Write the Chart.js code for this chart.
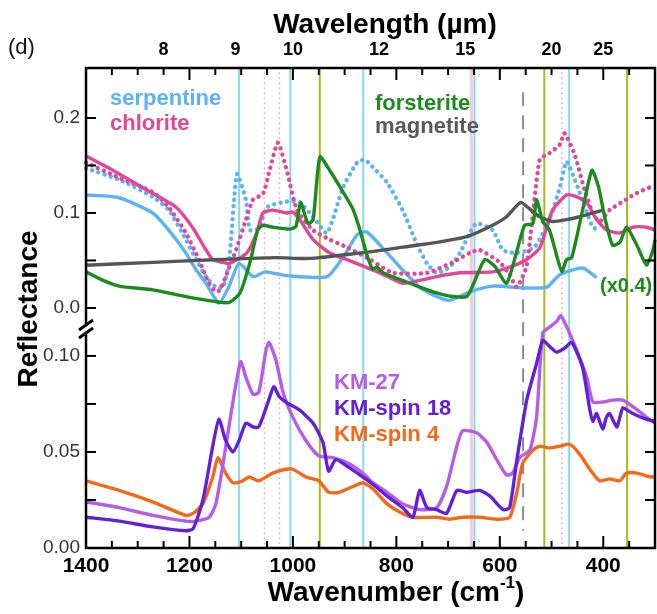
<!DOCTYPE html>
<html><head><meta charset="utf-8">
<script src="https://cdn.jsdelivr.net/npm/chart.js@4/dist/chart.umd.min.js"></script>
<style>html,body{margin:0;padding:0;background:#fff}#wrap{width:657px;height:614px;position:relative}</style>
</head><body><div id="wrap"><canvas id="c"></canvas></div>
<script>
// ---- data (wavenumber in cm-1, reflectance) ----
const serpSolidWn = [1400,1336,1271,1240,1207,1187,1168,1143,1124,1104,1077,1054,1012,934,900,876,857,818,788,755,722,697,658,614,548,509,484,440,413];
const serpSolidR  = [0.119,0.116,0.100,0.082,0.058,0.040,0.026,0.005,0.022,0.047,0.033,0.038,0.034,0.033,0.056,0.077,0.080,0.058,0.040,0.022,0.012,0.008,0.017,0.023,0.021,0.022,0.035,0.042,0.032];
const serpDotWn = [1400,1336,1271,1240,1207,1187,1168,1149,1135,1124,1114,1108,1091,1083,1066,1050,1012,987,961,934,903,876,861,847,818,788,761,741,722,697,677,658,645,614,594,567,533,504,484,471,455,432,420,407];
const serpDotR  = [0.147,0.135,0.117,0.103,0.072,0.051,0.033,0.022,0.022,0.047,0.111,0.141,0.114,0.082,0.084,0.106,0.112,0.111,0.096,0.079,0.127,0.153,0.156,0.149,0.132,0.103,0.068,0.047,0.037,0.043,0.058,0.079,0.089,0.082,0.061,0.058,0.064,0.093,0.127,0.154,0.135,0.101,0.085,0.082];
const chlSolidWn = [1400,1348,1282,1226,1193,1168,1155,1137,1122,1089,1070,1058,1039,1012,1000,987,961,929,896,832,788,755,722,677,614,581,548,523,509,498,471,451,432,413,393,368,343,316,300];
const chlSolidR  = [0.160,0.145,0.124,0.106,0.084,0.061,0.051,0.048,0.047,0.058,0.079,0.100,0.103,0.100,0.101,0.093,0.072,0.058,0.051,0.037,0.026,0.029,0.033,0.037,0.038,0.043,0.051,0.063,0.085,0.103,0.119,0.117,0.111,0.093,0.082,0.079,0.085,0.085,0.082];
const chlDotWn = [1400,1336,1271,1240,1207,1182,1162,1149,1141,1130,1110,1091,1077,1058,1045,1029,1012,992,961,929,896,851,807,741,691,658,639,600,581,567,548,523,504,484,475,455,436,420,407,388,362,335,310,300];
const chlDotR  = [0.153,0.137,0.122,0.106,0.079,0.051,0.026,0.017,0.019,0.033,0.061,0.093,0.114,0.120,0.145,0.174,0.145,0.103,0.082,0.072,0.064,0.051,0.037,0.037,0.048,0.058,0.061,0.048,0.035,0.022,0.045,0.156,0.163,0.172,0.184,0.161,0.124,0.100,0.091,0.103,0.112,0.121,0.127,0.128];
const forWn = [1400,1367,1336,1271,1207,1141,1122,1102,1083,1068,1058,1039,1006,994,985,971,961,948,929,903,884,871,857,846,838,826,788,755,722,691,664,652,629,610,587,565,552,536,529,517,504,488,480,471,461,440,422,409,397,382,368,355,335,316,304,300];
const forR  = [0.038,0.029,0.023,0.019,0.012,0.006,0.006,0.016,0.048,0.082,0.087,0.085,0.083,0.086,0.111,0.089,0.093,0.159,0.145,0.122,0.104,0.083,0.056,0.041,0.043,0.037,0.029,0.022,0.016,0.012,0.012,0.024,0.051,0.044,0.026,0.064,0.087,0.089,0.114,0.091,0.082,0.051,0.038,0.051,0.053,0.103,0.145,0.127,0.095,0.066,0.069,0.085,0.066,0.045,0.061,0.072];
const magWn = [1400,1271,1141,1033,981,948,900,851,788,722,664,614,587,560,544,523,498,471,446,420,401];
const magR  = [0.045,0.048,0.051,0.053,0.052,0.053,0.056,0.059,0.064,0.069,0.075,0.087,0.096,0.111,0.105,0.096,0.091,0.093,0.096,0.100,0.103];
const km27Wn = [1400,1336,1271,1207,1187,1162,1149,1135,1116,1101,1091,1077,1066,1052,1046,1033,1019,1000,975,950,923,892,865,846,818,788,755,722,703,683,672,645,625,606,587,575,562,542,529,517,504,490,482,459,432,420,401,382,362,335,316,300];
const km27R  = [0.024,0.021,0.017,0.014,0.014,0.016,0.023,0.044,0.076,0.097,0.089,0.080,0.081,0.103,0.107,0.098,0.081,0.068,0.056,0.048,0.047,0.044,0.039,0.034,0.029,0.023,0.020,0.021,0.032,0.053,0.061,0.060,0.055,0.046,0.038,0.039,0.047,0.051,0.068,0.112,0.115,0.118,0.121,0.108,0.089,0.076,0.076,0.077,0.077,0.072,0.068,0.065];
const km18Wn = [1400,1336,1271,1207,1193,1174,1155,1143,1130,1116,1104,1091,1077,1066,1048,1037,1027,1014,988,961,942,931,917,892,865,840,818,788,768,755,741,722,703,683,664,639,619,594,581,567,548,529,517,504,490,475,461,440,426,420,413,401,394,388,374,368,362,349,335,316,300];
const km18R  = [0.016,0.014,0.011,0.009,0.010,0.025,0.053,0.067,0.056,0.050,0.056,0.065,0.063,0.063,0.076,0.084,0.079,0.076,0.072,0.065,0.055,0.040,0.046,0.042,0.037,0.032,0.027,0.021,0.016,0.030,0.021,0.020,0.018,0.030,0.029,0.030,0.027,0.020,0.021,0.046,0.077,0.096,0.108,0.105,0.102,0.104,0.107,0.094,0.072,0.066,0.070,0.062,0.068,0.070,0.063,0.068,0.073,0.071,0.069,0.067,0.066];
const km4Wn = [1400,1336,1271,1207,1193,1174,1155,1145,1130,1116,1097,1085,1066,1039,1014,1000,975,950,931,911,884,865,846,818,788,768,722,697,672,639,606,581,567,556,536,523,504,484,465,446,426,407,388,368,355,335,310,300];
const km4R  = [0.035,0.030,0.024,0.017,0.018,0.023,0.037,0.047,0.039,0.034,0.035,0.037,0.035,0.039,0.041,0.041,0.037,0.035,0.029,0.029,0.032,0.034,0.031,0.023,0.018,0.016,0.016,0.015,0.016,0.016,0.015,0.016,0.029,0.044,0.051,0.053,0.052,0.053,0.054,0.049,0.041,0.035,0.036,0.035,0.039,0.039,0.037,0.037];

// reference lines (cm-1)
const cyanLines = [1104,1005,864,649,466];
const pinkDotLines = [1055,1026,480];
const yellowLines = [948,514,354];
const pinkSolidLines = [655];
const grayDashLines = [555];

// tick labels
const bottomTicks = [1400,1200,1000,800,600,400];
const topWavelengths = [8,9,10,12,15,20,25];
const upperTicks = [0,0.1,0.2];
const lowerTicks = [0,0.05,0.10];

const F = '"Liberation Sans", Arial, Helvetica, sans-serif';
const pts = (w,r)=>w.map((v,i)=>({x:v,y:r[i]}));

function ds(label, w, r, color, axis, dotted){
  const o = {label, data: pts(w,r), borderColor: color, backgroundColor: color, yAxisID: axis, xAxisID:'x',
    borderWidth: 3.4, pointRadius:0, tension:0.2, fill:false, borderJoinStyle:'round', clip:false};
  if (dotted){ o.borderDash=[0.01,6.5]; o.borderCapStyle='round'; o.borderWidth=4.4; }
  return o;
}

const overlay = {
  id:'overlay',
  beforeDatasetsDraw(chart){
    const {ctx, chartArea:a, scales} = chart;
    const x = scales.x, yU = scales.yU, yL = scales.yL;
    ctx.save();
    const vline=(w,color,width,dash,y0,y1)=>{ const px=x.getPixelForValue(w); ctx.strokeStyle=color; ctx.lineWidth=width; ctx.setLineDash(dash); ctx.beginPath(); ctx.moveTo(px,y0); ctx.lineTo(px,y1); ctx.stroke(); };
    pinkSolidLines.forEach(w=>vline(w,'#f4cbdc',3,[],a.top,a.bottom));
    cyanLines.forEach(w=>vline(w,'#86d9ea',2,[],a.top,a.bottom));
    yellowLines.forEach(w=>vline(w,'#a6bc1c',2,[],a.top,a.bottom));
    ctx.lineCap='round';
    pinkDotLines.forEach(w=>vline(w,'#e7a8cf',1.6,[0.5,4.5],a.top,a.bottom));
    ctx.lineCap='butt';
    grayDashLines.forEach(w=>vline(w,'#8c8c8c',2,[14,9], yU.getPixelForValue(0.227), yL.getPixelForValue(0.009)));
    ctx.restore();
  },
  afterDraw(chart){
    const {ctx, chartArea:a, scales} = chart;
    const x = scales.x, yU = scales.yU, yL = scales.yL;
    ctx.save();
    ctx.setLineDash([]);
    ctx.strokeStyle='#000'; ctx.lineWidth=2.5; ctx.lineCap='butt';
    const brk = 329;
    // frame
    ctx.beginPath();
    ctx.moveTo(a.left, brk-5); ctx.lineTo(a.left, a.top); ctx.lineTo(a.right, a.top); ctx.lineTo(a.right, a.bottom); ctx.lineTo(a.left, a.bottom); ctx.lineTo(a.left, brk+5);
    ctx.stroke();
    // x ticks (every 50 cm-1)
    ctx.lineWidth=2;
    for (let w=300; w<=1400; w+=50){
      const px = x.getPixelForValue(w);
      const len = (w%200===0)?12:7;
      ctx.beginPath(); ctx.moveTo(px,a.bottom); ctx.lineTo(px,a.bottom-len); ctx.stroke();
      ctx.beginPath(); ctx.moveTo(px,a.top); ctx.lineTo(px,a.top+len); ctx.stroke();
    }
    // y ticks
    [0,0.05,0.1,0.15,0.2].forEach(v=>{ const py=yU.getPixelForValue(v);
      ctx.beginPath(); ctx.moveTo(a.left,py); ctx.lineTo(a.left+10,py); ctx.stroke();
      ctx.beginPath(); ctx.moveTo(a.right,py); ctx.lineTo(a.right-10,py); ctx.stroke(); });
    [0.025,0.05,0.075,0.1].forEach(v=>{ const py=yL.getPixelForValue(v);
      ctx.beginPath(); ctx.moveTo(a.left,py); ctx.lineTo(a.left+10,py); ctx.stroke();
      ctx.beginPath(); ctx.moveTo(a.right,py); ctx.lineTo(a.right-10,py); ctx.stroke(); });
    // axis break marker
    ctx.lineWidth=3;
    ctx.beginPath(); ctx.moveTo(a.left-7, brk+1); ctx.lineTo(a.left+7, brk-9); ctx.stroke();
    ctx.beginPath(); ctx.moveTo(a.left-7, brk+9); ctx.lineTo(a.left+7, brk-1); ctx.stroke();

    // titles
    ctx.fillStyle='#000'; ctx.textBaseline='alphabetic';
    ctx.font='bold 28px '+F; ctx.textAlign='center';
    ctx.fillText('Wavelength (µm)', 385, 33);
    // x title with superscript
    const t1='Wavenumber (cm', sup='-1', t2=')';
    const w1=ctx.measureText(t1).width, w3=ctx.measureText(t2).width;
    ctx.font='bold 17px '+F; const w2=ctx.measureText(sup).width;
    const tot=w1+w2+w3; let sx=396-tot/2;
    ctx.textAlign='left';
    ctx.font='bold 28px '+F; ctx.fillText(t1, sx, 601);
    ctx.font='bold 17px '+F; ctx.fillText(sup, sx+w1, 588);
    ctx.font='bold 28px '+F; ctx.fillText(t2, sx+w1+w2, 601);
    // y title
    ctx.save(); ctx.translate(37, 309); ctx.rotate(-Math.PI/2);
    ctx.textAlign='center'; ctx.font='bold 28px '+F; ctx.fillText('Reflectance',0,0); ctx.restore();
    // panel tag
    ctx.textAlign='left'; ctx.font='22px '+F; ctx.fillStyle='#111';
    ctx.fillText('(d)', 8, 54);
    // legends
    ctx.font='bold 22px '+F;
    ctx.fillStyle='#5bb3f3'; ctx.fillText('serpentine', 110, 105);
    ctx.fillStyle='#e0479b'; ctx.fillText('chlorite', 110, 130);
    ctx.fillStyle='#1d8a1d'; ctx.fillText('forsterite', 375, 110);
    ctx.fillStyle='#5a5a5a'; ctx.fillText('magnetite', 375, 133);
    ctx.fillStyle='#b55de6'; ctx.fillText('KM-27', 334, 389);
    ctx.fillStyle='#6420d6'; ctx.fillText('KM-spin 18', 334, 415);
    ctx.fillStyle='#f26a18'; ctx.fillText('KM-spin 4', 334, 441);
    ctx.font='bold 20px '+F; ctx.fillStyle='#1d8a1d'; ctx.fillText('(x0.4)', 600, 292);
    ctx.restore();
  }
};

const chart = new Chart(document.getElementById('c'), {
  type:'line',
  data:{ datasets:[
    ds('forsterite', forWn, forR, '#1d8a1d', 'yU'),
    ds('magnetite', magWn, magR, '#555555', 'yU'),
    ds('chlorite', chlSolidWn, chlSolidR, '#e0479b', 'yU'),
    ds('chlorite dotted', chlDotWn, chlDotR, '#e0479b', 'yU', true),
    ds('serpentine', serpSolidWn, serpSolidR, '#5bb3f3', 'yU'),
    ds('serpentine dotted', serpDotWn, serpDotR, '#5bb3f3', 'yU', true),
    ds('KM-spin 18', km18Wn, km18R, '#6420d6', 'yL'),
    ds('KM-27', km27Wn, km27R, '#b55de6', 'yL'),
    ds('KM-spin 4', km4Wn, km4R, '#f26a18', 'yL')
  ]},
  options:{
    responsive:true, maintainAspectRatio:false, animation:false,
    layout:{padding:{left:0,right:2,top:0,bottom:0}},
    plugins:{legend:{display:false}, tooltip:{enabled:false}},
    scales:{
      x:{ type:'linear', position:'bottom', min:300, max:1400, reverse:true,
        grid:{display:false, drawTicks:false}, border:{display:false},
        afterBuildTicks:s=>{ s.ticks = bottomTicks.map(v=>({value:v})); },
        afterFit:s=>{ s.height=66; },
        ticks:{ autoSkip:false, maxRotation:0, padding:6, color:'#000', font:{family:F, size:21, weight:'bold'}, callback:v=>String(v) } },
      x2:{ type:'linear', position:'top', min:300, max:1400, reverse:true,
        grid:{display:false, drawTicks:false}, border:{display:false},
        afterBuildTicks:s=>{ s.ticks = topWavelengths.map(l=>({value:10000/l})); },
        afterFit:s=>{ s.height=68; },
        ticks:{ autoSkip:false, maxRotation:0, padding:7, color:'#000', font:{family:F, size:18, weight:'bold'}, callback:v=>String(Math.round(10000/v)) } },
      yL:{ type:'linear', position:'left', stack:'ref', stackWeight:218, min:0, max:0.1135,
        grid:{display:false, drawTicks:false}, border:{display:false},
        afterBuildTicks:s=>{ s.ticks = lowerTicks.map(v=>({value:v})); },
        afterFit:s=>{ s.width=86; },
        ticks:{ autoSkip:false, padding:6, color:'#333', font:{family:F, size:19}, callback:v=>v.toFixed(2) } },
      yU:{ type:'linear', position:'left', stack:'ref', stackWeight:262, min:-0.0232, max:0.2526,
        grid:{display:false, drawTicks:false}, border:{display:false},
        afterBuildTicks:s=>{ s.ticks = upperTicks.map(v=>({value:v})); },
        afterFit:s=>{ s.width=86; },
        ticks:{ autoSkip:false, padding:6, color:'#333', font:{family:F, size:19}, callback:v=>v.toFixed(1) } }
    }
  },
  plugins:[overlay]
});
</script></body></html>
